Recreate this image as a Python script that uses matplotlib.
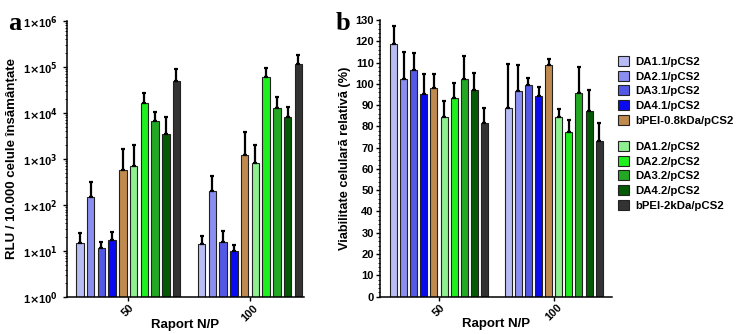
import matplotlib
matplotlib.use("Agg")
import matplotlib.pyplot as plt
import numpy as np
from matplotlib.ticker import FixedLocator, FuncFormatter, MultipleLocator, LogLocator, NullFormatter
from matplotlib.patches import Patch

plt.rcParams['font.family'] = ['Liberation Sans', 'DejaVu Sans']
plt.rcParams['font.weight'] = 'bold'

groups = ["50", "100"]
series = ["DA1.1/pCS2", "DA2.1/pCS2", "DA3.1/pCS2", "DA4.1/pCS2", "bPEI-0.8kDa/pCS2",
          "DA1.2/pCS2", "DA2.2/pCS2", "DA3.2/pCS2", "DA4.2/pCS2", "bPEI-2kDa/pCS2"]
colors = ["#b8bcf4", "#8a8ef0", "#5458e6", "#0a0af0", "#c08a4e",
          "#8ef08e", "#1ef01e", "#22a822", "#045a04", "#333333"]

# panel a: RLU per 10.000 cells (log scale), mean and upper error
rlu_50 = [14.8, 152, 11.6, 17.5, 575, 710, 16600, 6800, 3500, 50000]
rlu_50_err = [24.5, 318, 16.1, 26.5, 1650, 1990, 27500, 10300, 8000, 89000]
rlu_100 = [14.1, 202, 16.1, 10.3, 1230, 810, 61000, 12600, 8000, 115000]
rlu_100_err = [21.3, 434, 27.4, 13.6, 3900, 2000, 93000, 21900, 13200, 181000]

# panel b: relative viability (%)
via_50 = [118.6, 102.3, 106.5, 95.3, 98.2, 84.3, 93.5, 102.3, 97.0, 81.6]
via_50_err = [127.2, 114.8, 114.5, 104.7, 104.8, 92.1, 100.4, 113.3, 105.1, 88.5]
via_100 = [88.5, 96.5, 99.6, 94.3, 108.7, 84.6, 77.4, 95.6, 87.4, 73.2]
via_100_err = [109.5, 108.7, 102.8, 98.4, 111.8, 88.1, 83.0, 107.9, 97.1, 81.8]

fig = plt.figure(figsize=(7.38, 3.34), dpi=100)
axa = fig.add_axes([0.0904, 0.110, 0.3215, 0.828])
axb = fig.add_axes([0.515, 0.112, 0.314, 0.828])

n = len(series)
offset = 11.35
width = 0.7
group_x = [0, offset]


def draw(ax, vals, errs):
    for g in range(2):
        for i in range(n):
            x = group_x[g] + i
            v = vals[g][i]
            ax.bar(x, v, width=width, color=colors[i], edgecolor="#222222", linewidth=0.8, zorder=2)
            ax.errorbar(x, v, yerr=[[0], [errs[g][i] - v]], fmt="none", ecolor="black",
                        elinewidth=1.6, capsize=1.6, capthick=1.6, zorder=3)
    ax.spines['top'].set_visible(False)
    ax.spines['right'].set_visible(False)
    ax.spines['left'].set_linewidth(1.1)
    ax.spines['bottom'].set_linewidth(1.1)
    centers = [gx + (n - 1) / 2 for gx in group_x]
    ax.set_xticks(centers)
    ax.set_xticklabels(groups, rotation=45, fontsize=8, fontweight="bold")
    ax.tick_params(axis='x', length=3, width=1, pad=1)
    ax.set_xlabel("Raport N/P", fontsize=9.5, fontweight="bold", va="top")
    ax.xaxis.set_label_coords(0.5, -0.078)


draw(axa, [rlu_50, rlu_100], [rlu_50_err, rlu_100_err])
axa.set_yscale("log")
axa.set_ylim(1, 1e6)
axa.set_xlim(-1.22, offset + 9 + 0.52)
axa.yaxis.set_major_locator(FixedLocator([10.0 ** k for k in range(7)]))
axa.yaxis.set_major_formatter(FuncFormatter(lambda v, p: r"1$\times$10$^{%d}$" % round(np.log10(v))))
axa.yaxis.set_minor_locator(LogLocator(base=10, subs=np.arange(2, 10)))
axa.yaxis.set_minor_formatter(NullFormatter())
axa.tick_params(axis='y', which='major', labelsize=8, length=3, width=1)
axa.tick_params(axis='y', which='minor', length=1.5, width=0.6)
axa.set_ylabel("RLU / 10.000 celule însămânțate", fontsize=9.5, fontweight="bold", labelpad=3)

draw(axb, [via_50, via_100], [via_50_err, via_100_err])
axb.set_ylim(0, 130)
axb.set_xlim(-1.33, offset + 9 + 1.25)
axb.yaxis.set_major_locator(MultipleLocator(10))
axb.yaxis.set_minor_locator(MultipleLocator(2))
axb.tick_params(axis='y', which='major', labelsize=8, length=3, width=1, pad=1.5)
axb.tick_params(axis='y', which='minor', length=1.5, width=0.6)
axb.set_ylabel("Viabilitate celulară relativă (%)", fontsize=9.2, fontweight="bold", labelpad=3)

h1 = [Patch(facecolor=colors[i], edgecolor="#222222", linewidth=0.8) for i in range(5)]
h2 = [Patch(facecolor=colors[i], edgecolor="#222222", linewidth=0.8) for i in range(5, 10)]
common = dict(frameon=False, fontsize=8.2, handlelength=1.0, handleheight=1.0,
              handletextpad=0.5, labelspacing=0.32, borderaxespad=0, borderpad=0)
fig.legend(h1, series[:5], loc="upper left", bbox_to_anchor=(618 / 738, 1 - 56 / 334), **common)
fig.legend(h2, series[5:], loc="upper left", bbox_to_anchor=(618 / 738, 1 - 141 / 334), **common)

fig.text(8 / 738, 1 - 30 / 334, "a", fontsize=19, fontweight="bold", family=["Liberation Serif", "DejaVu Serif"])
fig.text(336 / 738, 1 - 30 / 334, "b", fontsize=19, fontweight="bold", family=["Liberation Serif", "DejaVu Serif"])

fig.savefig("out.png", dpi=100, facecolor="white")
